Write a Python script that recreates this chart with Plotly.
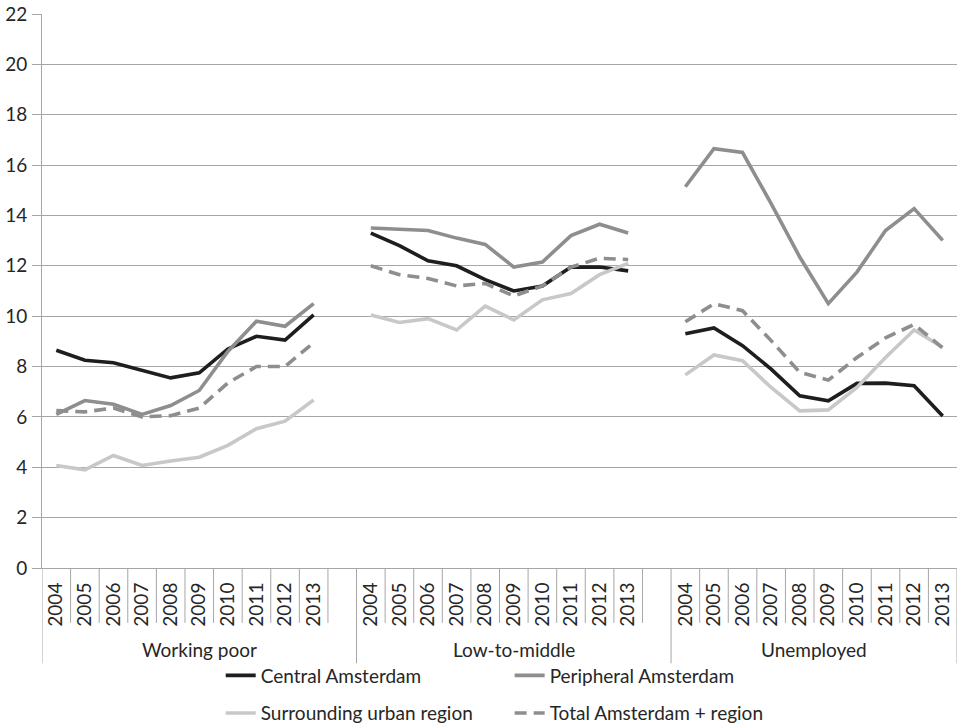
import plotly.graph_objects as go

years = ["2004", "2005", "2006", "2007", "2008", "2009", "2010", "2011", "2012", "2013"]
groups = ["Working poor", "Low-to-middle", "Unemployed"]

central = [
    [8.65, 8.25, 8.15, 7.85, 7.55, 7.75, 8.7, 9.2, 9.05, 10.05],
    [13.3, 12.8, 12.2, 12.0, 11.45, 11.0, 11.2, 11.95, 11.95, 11.8],
    [9.3, 9.53, 8.83, 7.9, 6.84, 6.64, 7.33, 7.34, 7.24, 6.04],
]
peripheral = [
    [6.1, 6.65, 6.5, 6.1, 6.45, 7.05, 8.6, 9.8, 9.6, 10.5],
    [13.5, 13.45, 13.4, 13.1, 12.85, 11.95, 12.15, 13.2, 13.65, 13.3],
    [15.14, 16.65, 16.5, 14.47, 12.35, 10.5, 11.75, 13.4, 14.27, 13.01],
]
surrounding = [
    [4.07, 3.9, 4.47, 4.07, 4.25, 4.4, 4.87, 5.53, 5.83, 6.67],
    [10.05, 9.75, 9.9, 9.45, 10.4, 9.85, 10.65, 10.9, 11.65, 12.1],
    [7.67, 8.46, 8.23, 7.17, 6.24, 6.28, 7.17, 8.36, 9.45, 8.76],
]
total = [
    [6.25, 6.2, 6.35, 6.0, 6.05, 6.35, 7.35, 8.0, 8.0, 8.95],
    [12.0, 11.65, 11.5, 11.2, 11.3, 10.8, 11.2, 11.95, 12.3, 12.25],
    [9.78, 10.49, 10.22, 9.03, 7.77, 7.46, 8.36, 9.14, 9.67, 8.74],
]

series_names = ["Central Amsterdam", "Peripheral Amsterdam",
                "Surrounding urban region", "Total Amsterdam + region"]
series_values = [central, peripheral, surrounding, total]
series_colors = ["#1e1e1e", "#8e8e8e", "#c8c8c8", "#8e8e8e"]
series_dash = ["solid", "solid", "solid", "12px,7px"]
series_legend = ["legend", "legend2", "legend3", "legend4"]

GROUP_STEP = len(years) + 1  # one blank category between groups


def xpos(g, i):
    return g * GROUP_STEP + i


fig = go.Figure()
for name, vals, col, dash, leg in zip(series_names, series_values, series_colors,
                                       series_dash, series_legend):
    xs, ys = [], []
    for g, gv in enumerate(vals):
        for i, v in enumerate(gv):
            xs.append(xpos(g, i))
            ys.append(v)
        xs.append(None)
        ys.append(None)
    fig.add_trace(go.Scatter(x=xs, y=ys, mode="lines", name=name, legend=leg,
                             showlegend=True,
                             line=dict(color=col, width=3.6, dash=dash),
                             connectgaps=False))

tickvals = [xpos(g, i) for g in range(len(groups)) for i in range(len(years))]
ticktext = [y for g in range(len(groups)) for y in years]
n_cat = GROUP_STEP * len(groups) - 1

FONT = "Lato"
FS = 19
TXT = "#262626"
GRID = "#a6a6a6"

shapes = []
for g in range(len(groups)):
    for i in range(len(years)):
        b = xpos(g, i) + 0.5
        if g == len(groups) - 1 and i == len(years) - 1:
            continue
        shapes.append(dict(type="line", xref="x", yref="paper", x0=b, x1=b,
                           y0=0, y1=-0.099, line=dict(color=GRID, width=1)))
for g in range(len(groups) + 1):
    b = g * GROUP_STEP - 0.5
    if g == len(groups):
        b = n_cat - 0.5
    shapes.append(dict(type="line", xref="x", yref="paper", x0=b, x1=b,
                       y0=0, y1=-0.172, line=dict(color=GRID, width=1)))

annotations = []
for g, name in enumerate(groups):
    start = g * GROUP_STEP - 0.5
    end = start + (GROUP_STEP if g < len(groups) - 1 else len(years))
    annotations.append(dict(x=(start + end) / 2, y=-0.148, xref="x", yref="paper",
                            text=name, showarrow=False, xanchor="center",
                            yanchor="middle", font=dict(family=FONT, size=FS, color=TXT)))


def legend_box(x, y):
    return dict(orientation="h", x=x, y=y, xanchor="left", yanchor="middle",
                bgcolor="rgba(0,0,0,0)", font=dict(family=FONT, size=FS, color=TXT),
                itemwidth=30, visible=True)


fig.update_layout(
    width=959, height=725,
    showlegend=True,
    margin=dict(l=42, r=2, t=14, b=157, autoexpand=False),
    plot_bgcolor="white", paper_bgcolor="white",
    font=dict(family=FONT, size=FS, color=TXT),
    shapes=shapes, annotations=annotations,
    xaxis=dict(range=[-0.5, n_cat - 0.5], tickmode="array", tickvals=tickvals,
               ticktext=ticktext, tickangle=-90, showgrid=False, zeroline=False,
               showline=True, linecolor=GRID, linewidth=1, ticks="",
               ticklabelstandoff=6,
               tickfont=dict(family=FONT, size=FS, color=TXT), automargin=False),
    yaxis=dict(range=[0, 22], dtick=2, showgrid=True, gridcolor=GRID, gridwidth=1,
               zeroline=False, showline=True, linecolor=GRID, linewidth=1,
               ticks="outside", ticklen=9, tickcolor=GRID, automargin=False,
               ticklabelstandoff=1,
               tickfont=dict(family=FONT, size=FS, color=TXT)),
    legend=legend_box(0.1953, -0.194),
    legend2=legend_box(0.5111, -0.194),
    legend3=legend_box(0.1953, -0.262),
    legend4=legend_box(0.5111, -0.262),
)

# remove the browser's default 8px body margin so the figure fills the window exactly
fig.write_html("out.html", config={"displayModeBar": False},
               post_script="document.body.style.margin='0px';")
